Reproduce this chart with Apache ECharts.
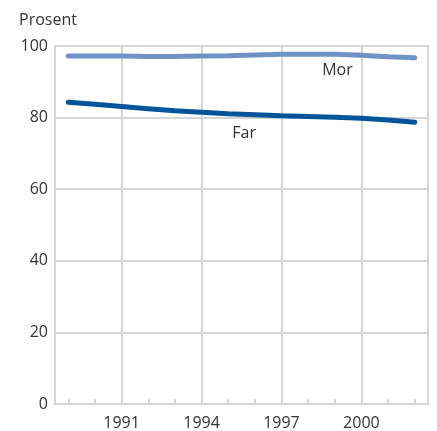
<!DOCTYPE html>
<html>
<head>
<meta charset="utf-8">
<script src="https://cdn.jsdelivr.net/npm/echarts@6/dist/echarts.min.js"></script>
<style>
  html, body { margin: 0; padding: 0; background: #fff; }
  #chart { width: 437px; height: 431px; }
</style>
</head>
<body>
<div id="chart"></div>
<script>
// years on the x axis
const years = [1989, 1990, 1991, 1992, 1993, 1994, 1995, 1996, 1997, 1998, 1999, 2000, 2001, 2002]
const yearLabels = [1991, 1994, 1997, 2000]
// share (prosent)
const mor = [97.2, 97.2, 97.2, 97.1, 97.1, 97.2, 97.3, 97.5, 97.7, 97.7, 97.7, 97.4, 97.0, 96.7]
const far = [84.3, 83.7, 83.1, 82.5, 81.9, 81.5, 81.1, 80.8, 80.5, 80.3, 80.1, 79.8, 79.3, 78.7]

const font = 'Open Sans'
const fontSize = 16
const gridColor = '#d6d6d6'
const textColor = '#333'

const chart = echarts.init(document.getElementById('chart'))

const xBase = {
  type: 'value',
  position: 'bottom',
  min: 1988.5,
  max: 2002.5,
  axisLine: { show: false }
}

chart.setOption({
  animation: false,
  title: {
    text: 'Prosent',
    left: 14,
    top: 7,
    textStyle: { fontFamily: font, fontSize: fontSize, fontWeight: 'normal', color: textColor }
  },
  grid: {
    left: 55, right: 9, top: 46, bottom: 27,
    show: true, borderColor: gridColor, borderWidth: 2
  },
  xAxis: [
    {
      ...xBase,
      axisTick: { show: true, inside: true, length: 5, customValues: years, lineStyle: { color: gridColor, width: 2 } },
      axisLabel: { show: false },
      splitLine: { show: false }
    },
    {
      ...xBase,
      axisTick: { show: false, customValues: yearLabels },
      axisLabel: {
        customValues: yearLabels,
        formatter: v => String(v),
        fontFamily: font, fontSize: fontSize, color: textColor, margin: 11
      },
      splitLine: { show: true, lineStyle: { color: gridColor, width: 2 } }
    }
  ],
  yAxis: {
    type: 'value',
    min: 0,
    max: 100,
    interval: 20,
    axisLine: { show: false },
    axisTick: { show: false },
    axisLabel: { fontFamily: font, fontSize: fontSize, color: textColor, margin: 7 },
    splitLine: { lineStyle: { color: gridColor, width: 2 } }
  },
  series: [
    {
      name: 'Mor',
      type: 'line',
      xAxisIndex: 0,
      data: years.map((y, i) => [y, mor[i]]),
      showSymbol: false,
      lineStyle: { color: '#7093c6', width: 5, cap: 'round' },
      markPoint: {
        symbol: 'circle', symbolSize: 0,
        data: [{ coord: [1999.1, 93.3] }],
        label: { show: true, formatter: 'Mor', position: 'inside', fontFamily: font, fontSize: fontSize, color: textColor }
      }
    },
    {
      name: 'Far',
      type: 'line',
      xAxisIndex: 0,
      data: years.map((y, i) => [y, far[i]]),
      showSymbol: false,
      lineStyle: { color: '#00549a', width: 5, cap: 'round' },
      markPoint: {
        symbol: 'circle', symbolSize: 0,
        data: [{ coord: [1995.6, 75.7] }],
        label: { show: true, formatter: 'Far', position: 'inside', fontFamily: font, fontSize: fontSize, color: textColor }
      }
    }
  ]
})
</script>
</body>
</html>
